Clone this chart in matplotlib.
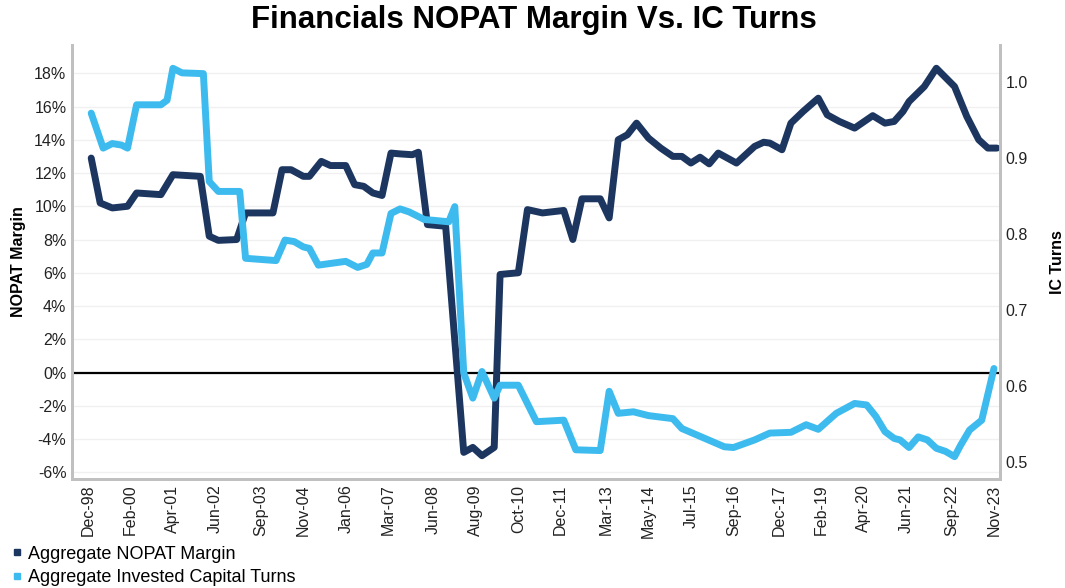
import pandas as pd
import matplotlib
matplotlib.use("Agg")
import matplotlib.pyplot as plt
from matplotlib.lines import Line2D
from matplotlib.ticker import FuncFormatter

plt.rcParams['font.family'] = ['Liberation Sans', 'DejaVu Sans']

# NOPAT margin (%), left axis
nopat_dates = ['1999-01', '1999-04', '1999-08', '2000-01', '2000-04', '2000-12', '2001-04',
               '2002-01', '2002-04', '2002-07', '2003-01', '2003-04', '2004-01', '2004-04',
               '2004-07', '2004-11', '2005-01', '2005-05', '2005-08', '2006-01', '2006-04',
               '2006-07', '2006-10', '2007-01', '2007-04', '2007-07', '2007-11', '2008-01',
               '2008-04', '2008-10', '2009-04', '2009-07', '2009-10', '2010-02', '2010-04',
               '2010-10', '2011-01', '2011-06', '2012-01', '2012-04', '2012-07', '2013-01',
               '2013-04', '2013-07', '2013-10', '2014-01', '2014-05', '2014-09', '2015-01',
               '2015-04', '2015-07', '2015-10', '2016-01', '2016-04', '2016-10', '2017-04',
               '2017-07', '2017-09', '2018-01', '2018-04', '2018-08', '2019-01', '2019-04',
               '2019-08', '2020-01', '2020-07', '2020-11', '2021-02', '2021-05', '2021-07',
               '2021-12', '2022-04', '2022-10', '2023-02', '2023-06', '2023-09', '2023-12']
nopat_vals = [12.9, 10.2, 9.9, 10.0, 10.8, 10.7, 11.9,
              11.8, 8.2, 7.95, 8.0, 9.6, 9.6, 12.2,
              12.2, 11.8, 11.8, 12.7, 12.45, 12.45, 11.3,
              11.2, 10.8, 10.65, 13.2, 13.15, 13.1, 13.25,
              8.9, 8.8, -4.8, -4.5, -5.0, -4.5, 5.9,
              6.0, 9.8, 9.6, 9.75, 8.0, 10.45, 10.45,
              9.3, 14.0, 14.3, 15.0, 14.1, 13.5, 13.0,
              13.0, 12.6, 12.95, 12.55, 13.2, 12.6, 13.6,
              13.85, 13.8, 13.4, 15.0, 15.7, 16.5, 15.5,
              15.1, 14.7, 15.45, 15.0, 15.1, 15.7, 16.3,
              17.2, 18.3, 17.2, 15.4, 14.0, 13.5, 13.5]

# Invested capital turns, right axis
turns_dates = ['1999-01', '1999-05', '1999-08', '1999-11', '2000-01', '2000-04', '2000-12',
               '2001-02', '2001-04', '2001-07', '2002-02', '2002-04', '2002-07', '2003-02',
               '2003-04', '2004-02', '2004-05', '2004-08', '2004-11', '2005-01', '2005-04',
               '2006-01', '2006-05', '2006-08', '2006-10', '2007-01', '2007-04', '2007-07',
               '2007-10', '2008-03', '2008-06', '2008-11', '2009-01', '2009-04', '2009-07',
               '2009-10', '2010-02', '2010-04', '2010-10', '2011-04', '2012-01', '2012-05',
               '2013-01', '2013-04', '2013-07', '2013-12', '2014-05', '2015-01', '2015-04',
               '2016-06', '2016-09', '2017-04', '2017-09', '2018-04', '2018-09', '2019-01',
               '2019-07', '2020-01', '2020-05', '2020-08', '2020-11', '2021-02', '2021-04',
               '2021-07', '2021-10', '2022-01', '2022-04', '2022-07', '2022-10', '2022-12',
               '2023-03', '2023-07', '2023-11']
turns_vals = [0.959, 0.913, 0.919, 0.917, 0.913, 0.970, 0.970,
              0.976, 1.018, 1.012, 1.011, 0.869, 0.856, 0.856,
              0.768, 0.765, 0.792, 0.790, 0.783, 0.781, 0.759,
              0.764, 0.756, 0.760, 0.775, 0.775, 0.827, 0.833,
              0.829, 0.819, 0.818, 0.816, 0.836, 0.617, 0.584,
              0.619, 0.584, 0.601, 0.601, 0.553, 0.555, 0.516,
              0.515, 0.593, 0.564, 0.566, 0.561, 0.557, 0.544,
              0.520, 0.519, 0.529, 0.538, 0.539, 0.549, 0.543,
              0.564, 0.577, 0.575, 0.560, 0.540, 0.531, 0.529,
              0.519, 0.533, 0.529, 0.518, 0.514, 0.507, 0.522,
              0.542, 0.555, 0.623]

tick_labels = ['Dec-98', 'Feb-00', 'Apr-01', 'Jun-02', 'Sep-03', 'Nov-04', 'Jan-06',
               'Mar-07', 'Jun-08', 'Aug-09', 'Oct-10', 'Dec-11', 'Mar-13', 'May-14',
               'Jul-15', 'Sep-16', 'Dec-17', 'Feb-19', 'Apr-20', 'Jun-21', 'Sep-22', 'Nov-23']

dark = '#1c3660'
light = '#3dbbee'
spine_col = '#c0c0c0'

fig = plt.figure(figsize=(10.65, 5.88), dpi=100)
ax = fig.add_axes([0.0676, 0.1854, 0.8714, 0.7381])
ax2 = ax.twinx()

ax.plot(pd.to_datetime(nopat_dates), nopat_vals, color=dark, lw=5,
        solid_joinstyle='round', solid_capstyle='round', zorder=3)
ax2.plot(pd.to_datetime(turns_dates), turns_vals, color=light, lw=5,
         solid_joinstyle='round', solid_capstyle='round', zorder=3)

ax.axhline(0, color='black', lw=1.6, zorder=2)

ax.set_ylim(-6.4, 19.7)
ax2.set_ylim(0.4776, 1.0487)
ax.set_yticks(range(-6, 19, 2))
ax2.set_yticks([0.5, 0.6, 0.7, 0.8, 0.9, 1.0])
ax.yaxis.set_major_formatter(FuncFormatter(lambda v, p: '%d%%' % v))
ax2.yaxis.set_major_formatter(FuncFormatter(lambda v, p: '%.1f' % v))
ax.yaxis.grid(True, color='#f0f0f0', lw=1)
ax.set_axisbelow(True)

tick_dates = pd.to_datetime(tick_labels, format='%b-%y')
ax.set_xticks(tick_dates)
ax.set_xticklabels(tick_labels, rotation=90)
ax.set_xlim(pd.Timestamp('1998-06-22'), pd.Timestamp('2024-01-01'))

for a in (ax, ax2):
    a.tick_params(length=0, labelsize=11.5, colors='#222222', pad=4)
    a.spines['top'].set_visible(False)
    for s in ('left', 'right', 'bottom'):
        a.spines[s].set_color(spine_col)
        a.spines[s].set_linewidth(2)

ax.set_ylabel('NOPAT Margin', fontsize=11.5, fontweight='bold', labelpad=6)
ax2.set_ylabel('IC Turns', fontsize=11.5, fontweight='bold', labelpad=16)

fig.suptitle('Financials NOPAT Margin Vs. IC Turns', fontsize=22.5, fontweight='bold',
             x=0.501, y=0.966, va='center')

handles = [Line2D([], [], ls='none', marker='s', markersize=5, color=dark),
           Line2D([], [], ls='none', marker='s', markersize=5, color=light)]
fig.legend(handles, ['Aggregate NOPAT Margin', 'Aggregate Invested Capital Turns'],
           loc='lower left', bbox_to_anchor=(-0.008, -0.024), frameon=False,
           fontsize=13, handletextpad=0.1, labelspacing=0.35, handlelength=1)

fig.savefig('out.png', dpi=100)
